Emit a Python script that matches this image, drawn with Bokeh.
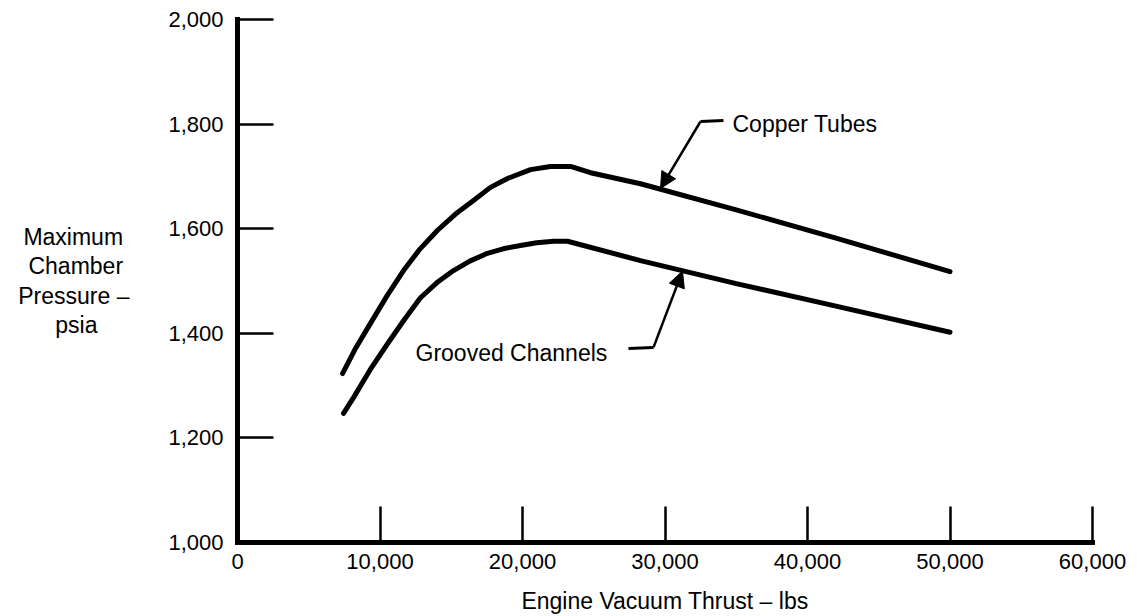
from bokeh.plotting import figure
from bokeh.models import Range1d, FixedTicker, NumeralTickFormatter, Label, Arrow, NormalHead
from bokeh.embed import file_html
from bokeh.resources import INLINE

# ---- data ----
copper_x = [7370, 8300, 9330, 10500, 11650, 12800, 14040, 15300, 16560, 17750, 18950, 20560, 21960, 23370, 24770, 28280, 35000, 42000, 50000]
copper_y = [1323, 1372, 1419, 1472, 1520, 1561, 1597, 1628, 1654, 1679, 1696, 1713, 1719, 1719, 1707, 1686, 1636, 1582, 1518]

grooved_x = [7440, 8140, 9300, 10530, 11700, 12840, 14000, 15160, 16300, 17540, 18700, 19860, 21000, 22180, 23160, 28280, 35000, 42000, 50000]
grooved_y = [1247, 1277, 1330, 1380, 1426, 1468, 1497, 1520, 1538, 1553, 1562, 1568, 1573, 1576, 1576, 1539, 1495, 1452, 1402]

x_ticks = [0, 10000, 20000, 30000, 40000, 50000, 60000]
y_ticks = [1000, 1200, 1400, 1600, 1800, 2000]

x_title = "Engine Vacuum Thrust \u2013 lbs"
y_title_lines = ["Maximum", "Chamber", "Pressure \u2013", "psia"]
copper_label = "Copper Tubes"
grooved_label = "Grooved Channels"

FONT = "Liberation Sans"
W, H = 1137, 616
LEFT, RIGHT, TOP, BOTTOM = 237, 45, 19, 74   # frame borders in canvas px

p = figure(width=W, height=H, output_backend="svg", toolbar_location=None,
           x_range=Range1d(0, 60000), y_range=Range1d(1000, 2000),
           min_border_left=LEFT, min_border_right=RIGHT, min_border_top=TOP, min_border_bottom=BOTTOM)
p.outline_line_color = None
p.xgrid.visible = False
p.ygrid.visible = False
p.background_fill_color = "white"
p.border_fill_color = "white"

for ax in (p.xaxis[0], p.yaxis[0]):
    ax.axis_line_width = 5
    ax.axis_line_color = "black"
    ax.axis_line_cap = "square"
    ax.major_tick_in = 36
    ax.major_tick_out = 0
    ax.major_tick_line_width = 2.5
    ax.major_tick_line_color = "black"
    ax.minor_tick_line_color = None
    ax.major_label_text_font = FONT
    ax.major_label_text_font_size = "22px"
    ax.major_label_text_color = "black"
    ax.formatter = NumeralTickFormatter(format="0,0")
    ax.axis_label_text_font = FONT
    ax.axis_label_text_font_size = "23px"
    ax.axis_label_text_font_style = "normal"
    ax.axis_label_text_color = "black"

p.xaxis.ticker = FixedTicker(ticks=x_ticks)
p.yaxis.ticker = FixedTicker(ticks=y_ticks)
p.xaxis.major_label_standoff = 11
p.yaxis.major_label_standoff = 14

# x title
p.xaxis.axis_label = x_title
p.xaxis.axis_label_standoff = 16

# y title: lines are right-aligned by Bokeh, so pad with no-break spaces to centre them
NBSP = "\u00a0"
y_pad = [1, 1, 0, 5]
p.yaxis.axis_label = "\n".join(t + NBSP * n for t, n in zip(y_title_lines, y_pad))
p.yaxis.axis_label_orientation = "horizontal"
p.yaxis.axis_label_standoff = 36
p.yaxis.axis_label_text_line_height = 1.13

# curves
p.line(copper_x, copper_y, line_width=5, line_color="black", line_join="round", line_cap="round")
p.line(grooved_x, grooved_y, line_width=5, line_color="black", line_join="round", line_cap="round")

# series labels with leader arrows
p.add_layout(Label(x=34737, y=1801, text=copper_label, text_font=FONT, text_font_size="23px",
                   text_align="left", text_baseline="middle", text_color="black"))
p.line([34105, 32491], [1807, 1805], line_width=3, line_color="black")
p.add_layout(Arrow(x_start=32491, y_start=1805, x_end=29684, y_end=1677,
                   line_width=2.5, line_color="black",
                   end=NormalHead(size=16, fill_color="black", line_color="black")))

p.add_layout(Label(x=12491, y=1363, text=grooved_label, text_font=FONT, text_font_size="23px",
                   text_align="left", text_baseline="middle", text_color="black"))
p.line([27439, 29193], [1371, 1373], line_width=3, line_color="black")
p.add_layout(Arrow(x_start=29193, y_start=1373, x_end=31228, y_end=1519,
                   line_width=2.5, line_color="black",
                   end=NormalHead(size=16, fill_color="black", line_color="black")))

open("out.html", "w").write(file_html(p, INLINE))
